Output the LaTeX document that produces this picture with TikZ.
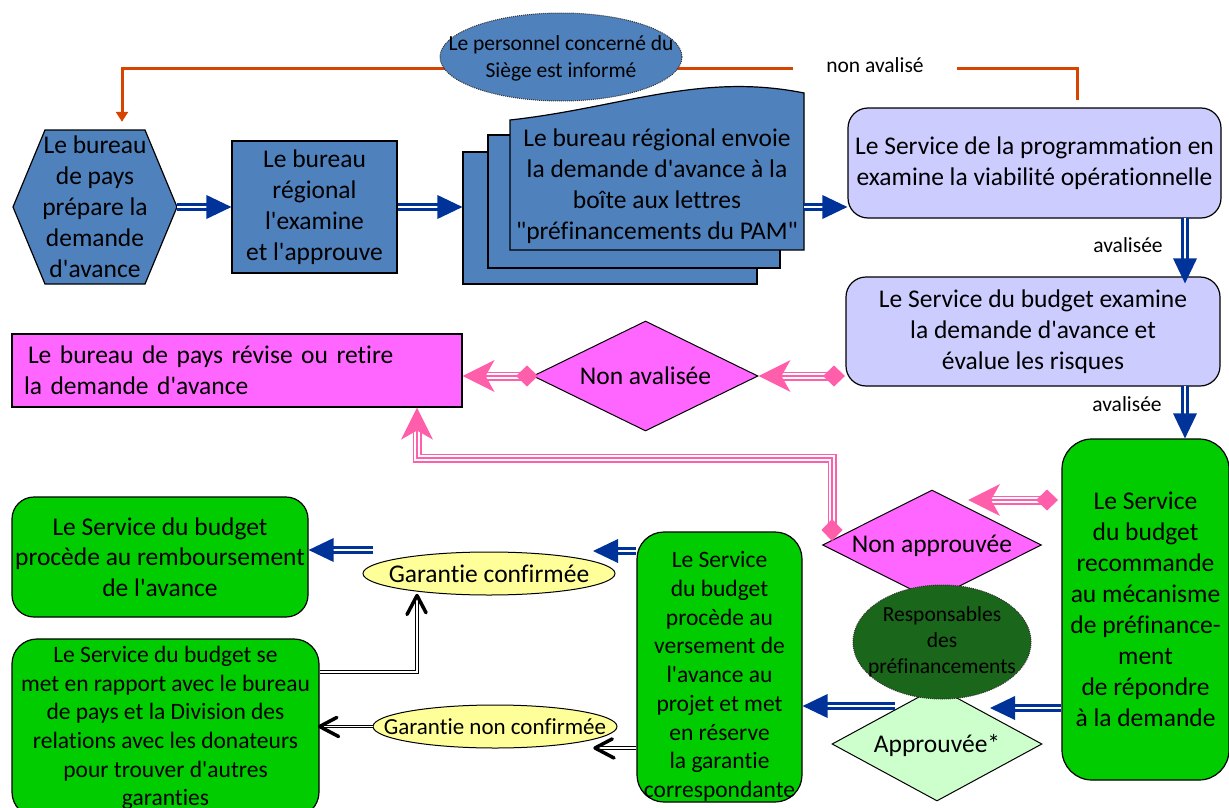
\documentclass[tikz,border=0pt]{standalone}
\usepackage{fontspec}
\setmainfont{Carlito}[Ligatures={TeXOff,CommonOff}]
\usetikzlibrary{calc,shapes.geometric,decorations.markings,arrows.meta}
\definecolor{cBlueFill}{RGB}{79,129,189}
\definecolor{cLav}{RGB}{204,204,255}
\definecolor{cGreen}{RGB}{0,204,0}
\definecolor{cMag}{RGB}{255,102,255}
\definecolor{cDkGreen}{RGB}{26,102,26}
\definecolor{cLtGreen}{RGB}{204,255,204}
\definecolor{cYellow}{RGB}{255,255,153}
\definecolor{cPink}{RGB}{255,95,170}
\definecolor{cArrB}{RGB}{0,51,153}
\definecolor{cOr}{RGB}{214,68,0}
\newcommand\fsz[2]{\fontsize{#1}{#2}\selectfont}
\tikzset{
  tx/.style={inner sep=0pt, align=center, font=\fsz{25.5}{31}},
  box/.style={tx, draw=black, line width=1.2pt},
  shp/.style={draw=black, line width=1pt, inner sep=0pt},
  bluehead/.style={postaction={decorate, decoration={markings, mark=at position 1 with {\fill[cArrB] (0pt,0pt) -- (-25pt,12pt) -- (-25pt,-12pt) -- cycle;}}}},
  bluearr/.style={draw=cArrB, line width=2.6pt, double=white, double distance=2pt, shorten >=22pt, bluehead},
  pinkends/.style={postaction={decorate, decoration={markings,
     mark=at position 0 with {\fill[cPink] (11pt,0pt) -- (0pt,10.5pt) -- (-11pt,0pt) -- (0pt,-10.5pt) -- cycle;},
     mark=at position 1 with {\fill[cPink] (0pt,0pt) -- (-32pt,16pt) -- (-23pt,0pt) -- (-32pt,-16pt) -- cycle;}}}},
  pinkarr/.style={shorten >=22pt, preaction={draw=cPink, line width=9pt}, preaction={draw=white, line width=5.5pt}, draw=cPink, line width=1.8pt, pinkends},
  blackhead/.style={postaction={decorate, decoration={markings, mark=at position 1 with {\draw[black, line width=3.5pt, line cap=round, line join=round] (-19pt,10pt) -- (0pt,0pt) -- (-19pt,-10pt);}}}},
  blackarr/.style={draw=black, line width=1pt, double=white, double distance=1.8pt, shorten >=2pt, blackhead},
  lbl/.style={inner sep=0pt, font=\fsz{21.5}{26}},
}
\begin{document}
\begin{tikzpicture}[x=1pt,y=-1pt]
\useasboundingbox (0,0) rectangle (1229,808);

% hexagon
\filldraw[fill=cBlueFill, draw=black, line width=1.2pt] (13,207) -- (45,130) -- (145,130) -- (177,207) -- (145,284) -- (45,284) -- cycle;
\node[tx, minimum width=164pt, minimum height=154pt] (hex) at (95,207) {Le bureau\\de pays\\prépare la\\demande\\d'avance};

\node[box, fill=cBlueFill, minimum width=165pt, minimum height=132pt] (reg) at (314.5,207) {Le bureau\\régional\\l'examine\\et l'approuve};

% stacked documents
\node[box, fill=cBlueFill, minimum width=294pt, minimum height=132pt] (env3) at (610,218) {};
\node[box, fill=cBlueFill, minimum width=292pt, minimum height=133pt] (env2) at (634,201.5) {};
\filldraw[fill=cBlueFill, draw=black, line width=1.2pt] (510,250) -- (510,120) .. controls (620,108) and (700,72) .. (804,93) -- (804,250) -- cycle;
\node[tx, minimum width=294pt, minimum height=130pt] (env) at (657,186) {Le bureau régional envoie\\la demande d'avance à la\\boîte aux lettres\\"préfinancements du PAM"};

\node[box, fill=cLav, rounded corners=20pt, minimum width=373pt, minimum height=110pt] (prog) at (1034.5,163) {Le Service de la programmation en\\examine la viabilité opérationnelle};
\node[box, fill=cLav, rounded corners=20pt, minimum width=374pt, minimum height=109pt] (budget) at (1033,331.5) {Le Service du budget examine\\la demande d'avance et\\évalue les risques};
\node[box, fill=cGreen, rounded corners=30pt, minimum width=167pt, minimum height=341pt] (rec) at (1145.5,609.5) {Le Service\\du budget\\recommande\\au mécanisme\\de préfinance-\\ment\\de répondre\\à la demande};

% orange feedback connector
\coordinate (o1) at (1077,100);
\coordinate (ot) at (122,69);
\draw[cOr, line width=3pt, -{Triangle[length=10pt,width=12pt]}, shorten >=8pt] (o1) |- (ot) -- (ot |- hex.north);
\node[lbl, fill=white, inner xsep=33pt, inner ysep=3pt] (nav) at (875,65) {non avalisé};

\node[ellipse, draw=black!80, densely dotted, line width=1pt, fill=cBlueFill, minimum width=242pt, minimum height=88pt, inner sep=0pt] (sig) at (561,57) {};
\node[tx, font=\fsz{21.5}{27}] (sigT) at (561,58.5) {Le personnel concerné du\\Siège est informé};

% magenta
\node[box, fill=cMag, minimum width=450pt, minimum height=73pt, text width=426pt, align=left, inner xsep=12pt] (revise) at (237,370.5) {\hspace*{4pt}Le bureau de pays révise ou retire\\la demande d'avance};

\node[shp, diamond, fill=cMag, minimum width=225pt, minimum height=110pt] (na) at (645.5,376) {};
\node[tx] (naT) at (645.5,376) {Non avalisée};

\node[shp, diamond, fill=cMag, minimum width=219pt, minimum height=110pt] (nap) at (932,545) {};
\node[tx] (napT) at (932,546) {Non approuvée};

\node[shp, diamond, fill=cLtGreen, minimum width=210pt, minimum height=114pt] (app) at (937,744) {};
\node[tx] (appT) at (937,745) {Approuvée*};

\node[ellipse, draw=black!80, densely dotted, line width=1pt, fill=cDkGreen, minimum width=178pt, minimum height=114pt, inner sep=0pt] (resp) at (942,642) {};
\node[tx, font=\fsz{21.5}{26}] (respT) at (942,642) {Responsables\\des\\préfinancements};

% green boxes bottom
\node[box, fill=cGreen, rounded corners=27pt, minimum width=165pt, minimum height=270pt] (vers) at (719.5,667) {};
\node[tx, font=\fsz{23.5}{28.7}] (versT) at (719.5,676.5) {Le Service\\du budget\\procède au\\versement de\\l'avance au\\projet et met\\en réserve\\la garantie\\correspondante};

\node[box, fill=cGreen, rounded corners=22pt, minimum width=296pt, minimum height=120pt, font=\fsz{25.5}{30.5}] (remb) at (160,557) {Le Service du budget\\procède au remboursement\\de l'avance};
\node[box, fill=cGreen, rounded corners=25pt, minimum width=307pt, minimum height=178pt, font=\fsz{23.5}{28.7}] (rapp) at (165.5,728) {Le Service du budget se\\met en rapport avec le bureau\\de pays et la Division des\\relations avec les donateurs\\pour trouver d'autres\\garanties};

\node[ellipse, shp, fill=cYellow, minimum width=252pt, minimum height=43pt] (gc) at (489,573.5) {};
\node[tx] (gcT) at (489,574) {Garantie confirmée};
\node[ellipse, shp, fill=cYellow, minimum width=244pt, minimum height=43pt] (gnc) at (495,726.5) {};
\node[tx, font=\fsz{23}{28}] (gncT) at (495,727) {Garantie non confirmée};

% labels
\node[lbl] (av1) at (1128,245) {avalisée};
\node[lbl] (av2) at (1127,404) {avalisée};

% blue arrows
\draw[bluearr] (hex.east) -- (reg.west);
\draw[bluearr] (reg.east) -- (reg.east -| env3.west);
\draw[bluearr] (reg.east -| env.east) -- (reg.east -| prog.west);
\coordinate (b4s) at (1185,218);
\draw[bluearr] (b4s) -- ($(b4s |- budget.north)+(0,7)$);
\coordinate (b5s) at (1185,386);
\draw[bluearr] (b5s) -- (b5s |- rec.north);
\coordinate (b6e) at (990,708);
\draw[bluearr] (b6e -| rec.west) -- (b6e);
\coordinate (b7s) at (895,706);
\draw[bluearr] (b7s) -- (b7s -| vers.east);
\coordinate (b8e) at (593,551);
\draw[bluearr] (b8e -| vers.west) -- (b8e);
\coordinate (b9s) at (373,550);
\draw[bluearr] (b9s) -- (b9s -| remb.east);

% pink arrows
\coordinate (p1s) at (834,376);
\draw[pinkarr] (p1s) -- (na.east);
\coordinate (p2s) at (527,376);
\draw[pinkarr] (p2s) -- (p2s -| revise.east);
\coordinate (p3s) at (832,530);
\coordinate (p3m) at (417,458);
\draw[pinkarr] (p3s) |- (p3m) -- (p3m |- revise.south);
\coordinate (p4s) at (1047,500);
\coordinate (p4e) at (968,500);
\draw[pinkarr] (p4s) -- (p4e);

% black arrows
\coordinate (k1m) at (417,672);
\draw[blackarr] (k1m -| rapp.east) -- (k1m) -- (k1m |- gc.south);
\coordinate (k2e) at (595,748);
\draw[blackarr] (k2e -| vers.west) -- (k2e);
\draw[blackarr] (gnc.west) -- (gnc.west -| rapp.east);
\end{tikzpicture}
\end{document}
